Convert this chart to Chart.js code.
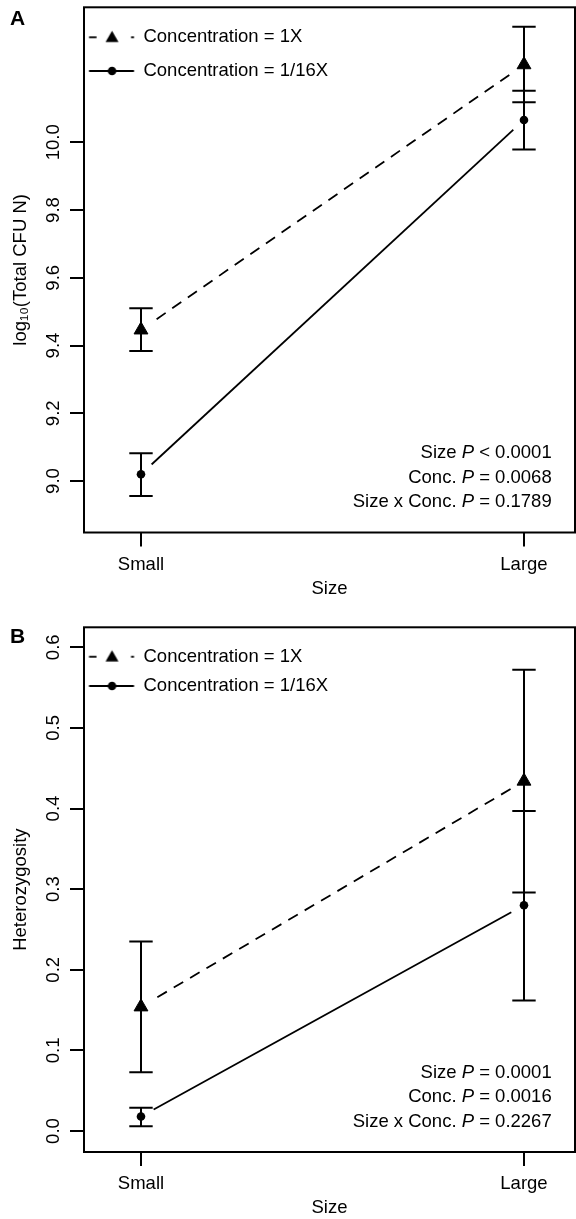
<!DOCTYPE html>
<html><head><meta charset="utf-8">
<script src="https://cdn.jsdelivr.net/npm/chart.js@4.4.0/dist/chart.umd.min.js"></script>
<style>
html,body{margin:0;padding:0;background:#fff;width:576px;height:1219px;overflow:hidden}
#wa{position:absolute;left:0;top:0;width:576px;height:600px}
#wb{position:absolute;left:0;top:600px;width:576px;height:619px}
canvas{display:block}
</style></head><body>
<div id="wa"><canvas id="ca" width="576" height="600" style="width:576px;height:600px"></canvas></div>
<div id="wb"><canvas id="cb" width="576" height="619" style="width:576px;height:619px"></canvas></div>
<script>
// ---------- data ----------
const sizes = ['Small', 'Large'];
const sizePos = [1, 2];
const seriesNames = ['Concentration = 1X', 'Concentration = 1/16X'];

// Panel A: log10(Total CFU N)
const cfuMean1X = [9.446, 10.229];
const cfuLow1X = [9.384, 10.118];
const cfuHigh1X = [9.510, 10.341];
const cfuMean16 = [9.020, 10.066];
const cfuLow16 = [8.956, 9.979];
const cfuHigh16 = [9.082, 10.152];
const cfuTicks = [9.0, 9.2, 9.4, 9.6, 9.8, 10.0];
const cfuStats = [['Size ', 'P', ' < 0.0001'], ['Conc. ', 'P', ' = 0.0068'], ['Size x Conc. ', 'P', ' = 0.1789']];

// Panel B: Heterozygosity
const hetMean1X = [0.154, 0.434];
const hetLow1X = [0.073, 0.296];
const hetHigh1X = [0.235, 0.572];
const hetMean16 = [0.018, 0.280];
const hetLow16 = [0.006, 0.162];
const hetHigh16 = [0.029, 0.397];
const hetTicks = [0.0, 0.1, 0.2, 0.3, 0.4, 0.5, 0.6];
const hetStats = [['Size ', 'P', ' = 0.0001'], ['Conc. ', 'P', ' = 0.0016'], ['Size x Conc. ', 'P', ' = 0.2267']];

// ---------- style ----------
const FONT = "'Liberation Sans', Arial, Helvetica, sans-serif";
const FS = 18.5;
const CA_LEFT = 84;
Chart.defaults.font.family = FONT;
Chart.defaults.font.size = FS;
Chart.defaults.color = '#000';

function pts(means) { return sizePos.map((x, i) => ({x: x, y: means[i]})); }
function bars(lo, hi) {
  const d = [];
  sizePos.forEach((x, i) => { d.push({x: x, y: lo[i]}, {x: x, y: hi[i]}, {x: x, y: null}); });
  return d;
}

function legendImage(kind, pad, box) {
  const W = 80, H = 24;
  const c = document.createElement('canvas'); c.width = W; c.height = H;
  const g = c.getContext('2d');
  const boxCenter = CA_LEFT + pad + box / 2;
  const imgLeft = boxCenter - W / 2;
  const sx0 = 89 - imgLeft, sx1 = 134 - imgLeft, mx = 112 - imgLeft, cy = H / 2;
  g.strokeStyle = '#000'; g.fillStyle = '#000'; g.lineWidth = 1.8;
  if (kind === 'tri') {
    g.beginPath(); g.moveTo(sx0, cy); g.lineTo(sx0 + 7.5, cy); g.stroke();
    g.beginPath(); g.moveTo(sx1 - 3, cy); g.lineTo(sx1, cy); g.stroke();
    const r = 7.5, y0 = cy + 1;
    g.beginPath();
    g.moveTo(mx, y0 - r);
    g.lineTo(mx + 0.866 * r, y0 + 0.5 * r);
    g.lineTo(mx - 0.866 * r, y0 + 0.5 * r);
    g.closePath(); g.fill();
  } else {
    g.beginPath(); g.moveTo(sx0, cy); g.lineTo(sx1, cy); g.stroke();
    g.beginPath(); g.arc(mx, cy, 4.3, 0, 2 * Math.PI); g.fill();
  }
  return c;
}

const boxPlugin = {
  id: 'box',
  afterDatasetsDraw(chart) {
    const {ctx, chartArea: a} = chart;
    ctx.save(); ctx.strokeStyle = '#000'; ctx.lineWidth = 2;
    ctx.strokeRect(a.left, a.top, a.right - a.left, a.bottom - a.top);
    ctx.restore();
  }
};

const statsPlugin = {
  id: 'stats',
  afterDraw(chart, args, opts) {
    const {ctx, chartArea: a} = chart;
    ctx.save(); ctx.fillStyle = '#000'; ctx.textBaseline = 'middle'; ctx.textAlign = 'left';
    const n = opts.lines.length;
    opts.lines.forEach((parts, k) => {
      const y = a.bottom - opts.bottomGap - (n - 1 - k) * opts.lineGap;
      const fonts = parts.map((t, j) => (j === 1 ? 'italic ' : '') + FS + 'px ' + FONT);
      const widths = parts.map((t, j) => { ctx.font = fonts[j]; return ctx.measureText(t).width; });
      let x = a.right - opts.rightGap - widths.reduce((s, w) => s + w, 0);
      parts.forEach((t, j) => { ctx.font = fonts[j]; ctx.fillText(t, x, y); x += widths[j]; });
    });
    ctx.font = 'bold 21px ' + FONT; ctx.textBaseline = 'alphabetic';
    ctx.fillText(opts.letter, 10, opts.letterY);
    ctx.restore();
  }
};

function makePanel(id, d) {
  const imgs = [legendImage('tri', d.legendPad, d.legendBox), legendImage('dot', d.legendPad, d.legendBox)];
  const gridOpts = {display: true, drawOnChartArea: false, drawTicks: true, tickLength: 14, color: '#000', lineWidth: 2};
  return new Chart(document.getElementById(id), {
    type: 'line',
    data: {datasets: [
      {label: seriesNames[0], data: pts(d.mean1X), showLine: false, pointStyle: 'triangle', pointRadius: 8,
       pointBackgroundColor: '#000', pointBorderColor: '#000', pointBorderWidth: 1, order: 0},
      {label: seriesNames[1], data: pts(d.mean16), showLine: false, pointStyle: 'circle', pointRadius: 4.3,
       pointBackgroundColor: '#000', pointBorderColor: '#000', pointBorderWidth: 0, order: 0},
      {label: 'err1X', data: bars(d.lo1X, d.hi1X), borderColor: '#000', borderWidth: 2, pointStyle: 'line',
       pointRadius: 11.7, pointBorderWidth: 2, pointBorderColor: '#000', spanGaps: false, order: 1},
      {label: 'err16', data: bars(d.lo16, d.hi16), borderColor: '#000', borderWidth: 2, pointStyle: 'line',
       pointRadius: 11.7, pointBorderWidth: 2, pointBorderColor: '#000', spanGaps: false, order: 1},
      {label: 'gap', data: pts(d.mean1X).concat(pts(d.mean16)), showLine: false, pointRadius: 14.5,
       pointBackgroundColor: '#fff', pointBorderWidth: 0, order: 2},
      {label: 'line1X', data: pts(d.mean1X), borderColor: '#000', borderWidth: 1.8, borderDash: [11, 8],
       pointRadius: 0, order: 3},
      {label: 'line16', data: pts(d.mean16), borderColor: '#000', borderWidth: 1.8, pointRadius: 0, order: 3}
    ]},
    options: {
      responsive: false, animation: false, devicePixelRatio: 1, events: [],
      layout: {autoPadding: false, padding: {top: d.padTop, right: 1, bottom: 0, left: 0}},
      scales: {
        x: {type: 'linear', min: 0.8512, max: 2.1332,
            afterBuildTicks: s => { s.ticks = sizePos.map(v => ({value: v})); },
            afterFit: s => { s.height = d.xAxisH; s.paddingLeft = 0; s.paddingRight = 0; },
            ticks: {callback: v => { const i = sizePos.indexOf(v); return i >= 0 ? sizes[i] : ''; },
                    padding: 7, autoSkip: false, maxRotation: 0, minRotation: 0, color: '#000'},
            grid: gridOpts, border: {display: false},
            title: {display: true, text: 'Size', padding: {top: 0, bottom: 0}, color: '#000'}},
        y: {type: 'linear', min: d.yMin, max: d.yMax,
            afterBuildTicks: s => { s.ticks = d.ticks.map(v => ({value: v})); },
            afterFit: s => { s.width = CA_LEFT; s.paddingTop = 0; s.paddingBottom = 0; },
            ticks: {callback: v => Number(v).toFixed(1), minRotation: 90, maxRotation: 90, crossAlign: 'center',
                    padding: d.yTickPad, autoSkip: false, color: '#000'},
            grid: gridOpts, border: {display: false},
            title: {display: true, text: d.yTitle, padding: {top: 9.5, bottom: 0}, color: '#000'}}
      },
      plugins: {
        tooltip: {enabled: false},
        legend: {position: 'chartArea', align: 'start',
          title: {display: true, text: '', padding: {top: d.legTitlePad, bottom: 0}, font: {size: 1, lineHeight: 1}},
          labels: {usePointStyle: true, pointStyleWidth: d.legendBox, padding: d.legendPad, color: '#000',
            font: {size: FS},
            generateLabels: () => [0, 1].map(i => ({text: seriesNames[i], pointStyle: imgs[i], fillStyle: '#000',
              strokeStyle: '#000', lineWidth: 0, hidden: false, datasetIndex: i, fontColor: '#000'}))}},
        stats: {lines: d.stats, bottomGap: 30.3, lineGap: 24.6, rightGap: 23.3, letter: d.letter, letterY: d.letterY}
      }
    },
    plugins: [boxPlugin, statsPlugin]
  });
}

makePanel('ca', {
  mean1X: cfuMean1X, lo1X: cfuLow1X, hi1X: cfuHigh1X, mean16: cfuMean16, lo16: cfuLow16, hi16: cfuHigh16,
  ticks: cfuTicks, stats: cfuStats, yMin: 8.848, yMax: 10.3986, yTitle: 'log\u2081\u2080(Total CFU N)',
  padTop: 7.3, xAxisH: 67.5, yTickPad: -2, legendPad: 15.2, legendBox: 35, legTitlePad: 11.85,
  letter: 'A', letterY: 25
});
makePanel('cb', {
  mean1X: hetMean1X, lo1X: hetLow1X, hi1X: hetHigh1X, mean16: hetMean16, lo16: hetLow16, hi16: hetHigh16,
  ticks: hetTicks, stats: hetStats, yMin: -0.026, yMax: 0.6248, yTitle: 'Heterozygosity',
  padTop: 27.3, xAxisH: 67, yTickPad: 3, legendPad: 10.8, legendBox: 39.45, legTitlePad: 35.65,
  letter: 'B', letterY: 43
});
</script>
</body></html>
